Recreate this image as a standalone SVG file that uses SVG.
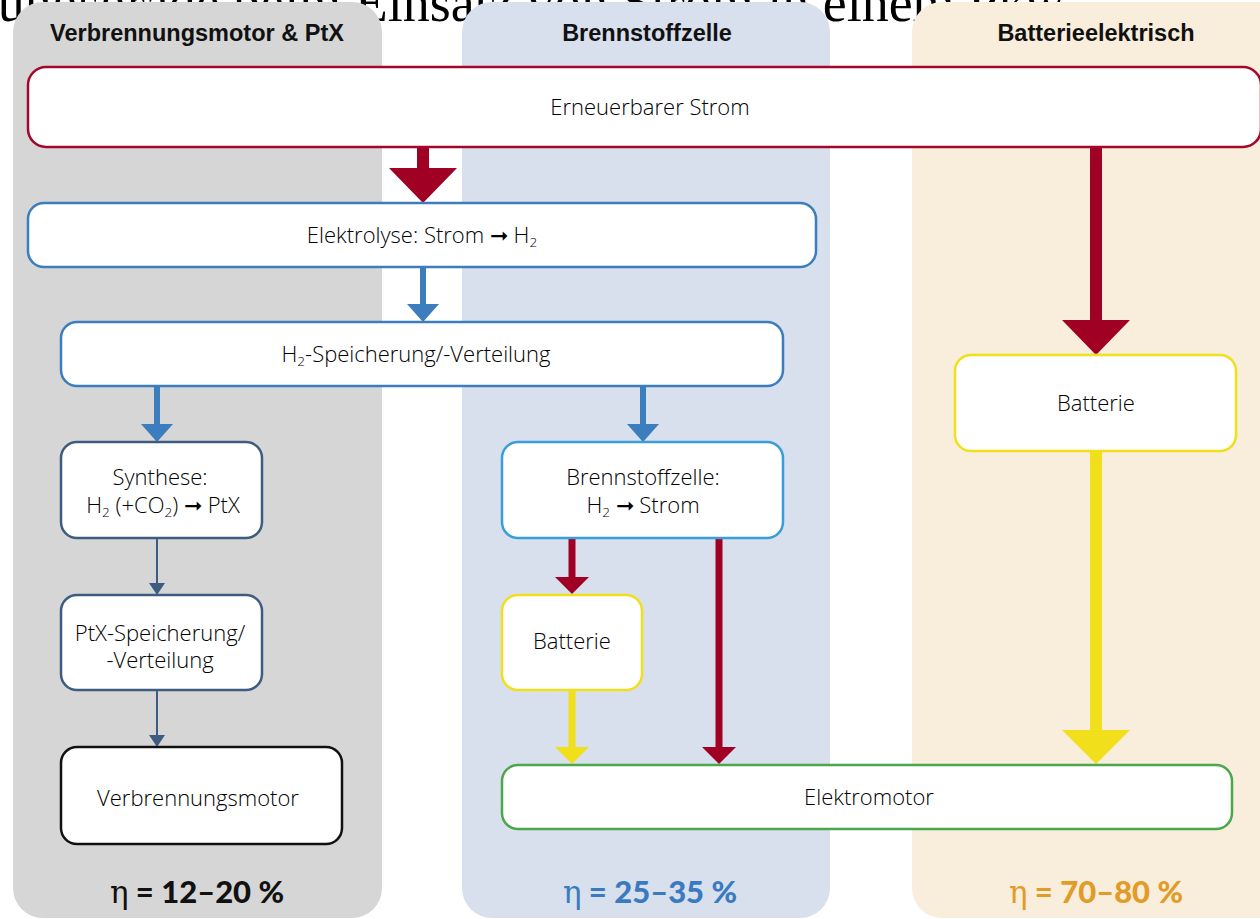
<svg xmlns="http://www.w3.org/2000/svg" width="1260" height="919" viewBox="0 0 1260 919">
<style>
.title{font-family:"Liberation Serif",serif;font-size:54px;fill:#000}
.hdr{font-family:"Liberation Sans",Arial,sans-serif;font-weight:700;font-size:23.5px;fill:#111;text-anchor:middle}
.box{fill:#fff;stroke-width:2.5}
.lbl{font-family:"Open Sans","Noto Sans",sans-serif;font-weight:300;font-size:22px;fill:#000;text-anchor:middle}
.sub{font-size:13.5px}
.eff{font-family:Lato,"Liberation Sans",sans-serif;font-weight:900;font-size:31px;text-anchor:middle}
.eta{font-family:"DejaVu Serif",serif;font-weight:400}
.red{fill:#a00024}
.blue{fill:#3b7dbd}
.slate{fill:#3e5c80}
.yellow{fill:#f1df1b}
</style>
<text class="title" x="-111" y="21">Wirkungsgrade beim Einsatz von Strom in einem Pkw</text>
<g id="columns">
<rect x="13" y="2" width="369" height="916" rx="30" fill="#d6d6d6"/>
<rect x="462" y="2" width="368" height="916" rx="30" fill="#d8dfed"/>
<rect x="912" y="2" width="390" height="916" rx="30" fill="#f9eddc"/>
<text class="hdr" x="197" y="41">Verbrennungsmotor &amp; PtX</text>
<text class="hdr" x="647" y="41">Brennstoffzelle</text>
<text class="hdr" x="1096" y="41">Batterieelektrisch</text>
</g>
<g id="connectors">
<polygon class="red" points="417,147 429,147 429,168 457,168 423,203 389,168 417,168"/>
<polygon class="red" points="1090,147 1102,147 1102,320 1130,320 1096,355 1062,320 1090,320"/>
<polygon class="yellow" points="1090,452 1102,452 1102,730 1130,730 1096,764 1062,730 1090,730"/>
<polygon class="blue" points="420,267 426,267 426,304 439,304 423,322 407,304 420,304"/>
<polygon class="blue" points="154,386 160,386 160,424 173,424 157,442 141,424 154,424"/>
<polygon class="blue" points="640,386 646,386 646,424 659,424 643,442 627,424 640,424"/>
<polygon class="slate" points="156,538 158,538 158,583 165,583 157,595 149,583 156,583"/>
<polygon class="slate" points="156,690 158,690 158,735 165,735 157,747 149,735 156,735"/>
<polygon class="red" points="568.5,538 575.5,538 575.5,577 589,577 572,594 555,577 568.5,577"/>
<polygon class="red" points="715.5,538 722.5,538 722.5,747 736,747 719,764 702,747 715.5,747"/>
<polygon class="yellow" points="568.5,690 575.5,690 575.5,747 589,747 572,764 555,747 568.5,747"/>
</g>
<g id="strom">
<rect class="box" x="28" y="67" width="1233" height="80" rx="18" stroke="#a3082c"/>
<text class="lbl" x="650" y="115">Erneuerbarer Strom</text>
</g>
<g id="elektrolyse">
<rect class="box" x="28" y="203" width="788" height="64" rx="16" stroke="#3b7dbd"/>
<text class="lbl" x="422" y="243">Elektrolyse: Strom ➞ H<tspan class="sub" dy="4">2</tspan></text>
</g>
<g id="h2speicher">
<rect class="box" x="61" y="322" width="722" height="64" rx="16" stroke="#3b7dbd"/>
<text class="lbl" x="416" y="362">H<tspan class="sub" dy="4">2</tspan><tspan dy="-4">-Speicherung/-Verteilung</tspan></text>
</g>
<g id="synthese">
<rect class="box" x="61" y="442" width="201" height="96" rx="16" stroke="#3e5c80"/>
<text class="lbl" x="160" y="485">Synthese:</text>
<text class="lbl" x="163" y="513">H<tspan class="sub" dy="4">2</tspan><tspan dy="-4"> (+CO</tspan><tspan class="sub" dy="4">2</tspan><tspan dy="-4">) ➞ PtX</tspan></text>
</g>
<g id="ptxspeicher">
<rect class="box" x="61" y="595" width="201" height="95" rx="16" stroke="#3e5c80"/>
<text class="lbl" x="160" y="641">PtX-Speicherung/</text>
<text class="lbl" x="160" y="668">-Verteilung</text>
</g>
<g id="verbrennungsmotor">
<rect class="box" x="61" y="747" width="281" height="97" rx="16" stroke="#111"/>
<text class="lbl" x="198" y="806">Verbrennungsmotor</text>
</g>
<g id="brennstoffzelle">
<rect class="box" x="502" y="442" width="281" height="96" rx="16" stroke="#3a9ddb"/>
<text class="lbl" x="643" y="485">Brennstoffzelle:</text>
<text class="lbl" x="643" y="513">H<tspan class="sub" dy="4">2</tspan><tspan dy="-4"> ➞ Strom</tspan></text>
</g>
<g id="batterie-bz">
<rect class="box" x="502" y="595" width="140" height="95" rx="16" stroke="#f1df1b"/>
<text class="lbl" x="572" y="649">Batterie</text>
</g>
<g id="batterie-bev">
<rect class="box" x="955" y="355" width="281" height="96" rx="16" stroke="#f1df1b"/>
<text class="lbl" x="1096" y="411">Batterie</text>
</g>
<g id="elektromotor">
<rect class="box" x="502" y="765" width="730" height="64" rx="16" stroke="#4ca64c"/>
<text class="lbl" x="869" y="805">Elektromotor</text>
</g>
<g id="efficiency">
<text class="eff" x="197" y="903" fill="#111"><tspan class="eta">η</tspan> = 12–20 %</text>
<text class="eff" x="650" y="903" fill="#3a7bbf"><tspan class="eta">η</tspan> = 25–35 %</text>
<text class="eff" x="1096" y="903" fill="#e19b26"><tspan class="eta">η</tspan> = 70–80 %</text>
</g>
</svg>
